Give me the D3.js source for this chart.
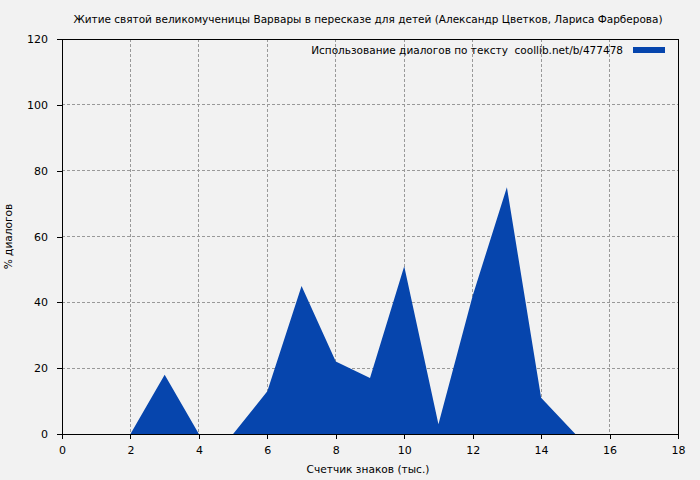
<!DOCTYPE html>
<html><head><meta charset="utf-8">
<script src="https://cdn.jsdelivr.net/npm/d3@7"></script>
<style>body{margin:0;background:#f2f2f2;} svg{display:block;}</style>
</head><body>
<svg id="chart" width="700" height="480"></svg>
<script>
const title = "Житие святой великомученицы Варвары в пересказе для детей (Александр Цветков, Лариса Фарберова)";
const legendLabel = "Использование диалогов по тексту  coollib.net/b/477478";
const xLabel = "Счетчик знаков (тыс.)";
const yLabel = "% диалогов";
const xValues = [0, 1, 2, 3, 4, 5, 6, 7, 8, 9, 10, 11, 12, 13, 14, 15, 16, 17, 18];
const yValues = [0, 0, 0, 18, 0, 0, 13, 45, 22, 17, 51, 3, 42, 75, 11, 0, 0, 0, 0];
const xTicks = [0, 2, 4, 6, 8, 10, 12, 14, 16, 18];
const yTicks = [0, 20, 40, 60, 80, 100, 120];

const svg = d3.select("#chart");
const font = "DejaVu Sans, Verdana, sans-serif";
const L = 62, R = 678, T = 39, B = 434;
const x = d3.scaleLinear().domain([0, 18]).range([L, R]);
const y = d3.scaleLinear().domain([0, 120]).range([B, T]);

svg.append("rect").attr("width", 700).attr("height", 480).attr("fill", "#f2f2f2");

// grid
svg.append("g").selectAll("line").data(xTicks.filter(d => d > 0 && d < 18)).join("line")
  .attr("x1", d => x(d)).attr("x2", d => x(d)).attr("y1", T).attr("y2", B)
  .attr("stroke", "#999").attr("stroke-dasharray", "3,2").attr("stroke-width", 1)
  .attr("shape-rendering", "crispEdges");
svg.append("g").selectAll("line").data(yTicks.filter(d => d > 0 && d < 120)).join("line")
  .attr("x1", L).attr("x2", R).attr("y1", d => y(d)).attr("y2", d => y(d))
  .attr("stroke", "#999").attr("stroke-dasharray", "3,2").attr("stroke-width", 1)
  .attr("shape-rendering", "crispEdges");

// area
const data = xValues.map((v, i) => ({x: v, y: yValues[i]}));
svg.append("path").datum(data)
  .attr("fill", "#0645ad")
  .attr("d", d3.area().x(d => x(d.x)).y0(y(0)).y1(d => y(d.y)));

// frame
svg.append("rect").attr("x", L).attr("y", T).attr("width", R - L).attr("height", B - T)
  .attr("fill", "none").attr("stroke", "#000").attr("stroke-width", 1).attr("shape-rendering", "crispEdges");

// axes
const xAxis = svg.append("g").attr("transform", `translate(0,${B})`)
  .call(d3.axisBottom(x).tickValues(xTicks).tickSize(5).tickPadding(7).tickFormat(d3.format("d")));
const yAxis = svg.append("g").attr("transform", `translate(${L},0)`)
  .call(d3.axisLeft(y).tickValues(yTicks).tickSize(5).tickPadding(9).tickFormat(d3.format("d")));
[xAxis, yAxis].forEach(g => {
  g.select(".domain").remove();
  g.selectAll("line").attr("stroke", "#000").attr("shape-rendering", "crispEdges");
  g.selectAll("text").attr("font-family", font).attr("font-size", 11).attr("fill", "#000");
});

// title
svg.append("text").attr("x", 368).attr("y", 23).attr("text-anchor", "middle")
  .attr("font-family", font).attr("font-size", 10.5).text(title);

// axis labels
svg.append("text").attr("x", 368).attr("y", 473).attr("text-anchor", "middle")
  .attr("font-family", font).attr("font-size", 10.6).text(xLabel);
svg.append("text").attr("transform", `translate(12,${(T + B) / 2}) rotate(-90)`).attr("text-anchor", "middle")
  .attr("font-family", font).attr("font-size", 10.6).text(yLabel);

// legend
svg.append("text").attr("x", 623).attr("y", 54).attr("text-anchor", "end")
  .attr("font-family", font).attr("font-size", 10.5).attr("xml:space", "preserve").style("white-space", "pre").text(legendLabel);
svg.append("rect").attr("x", 633).attr("y", 47).attr("width", 32).attr("height", 6).attr("fill", "#0645ad");
</script>
</body></html>
